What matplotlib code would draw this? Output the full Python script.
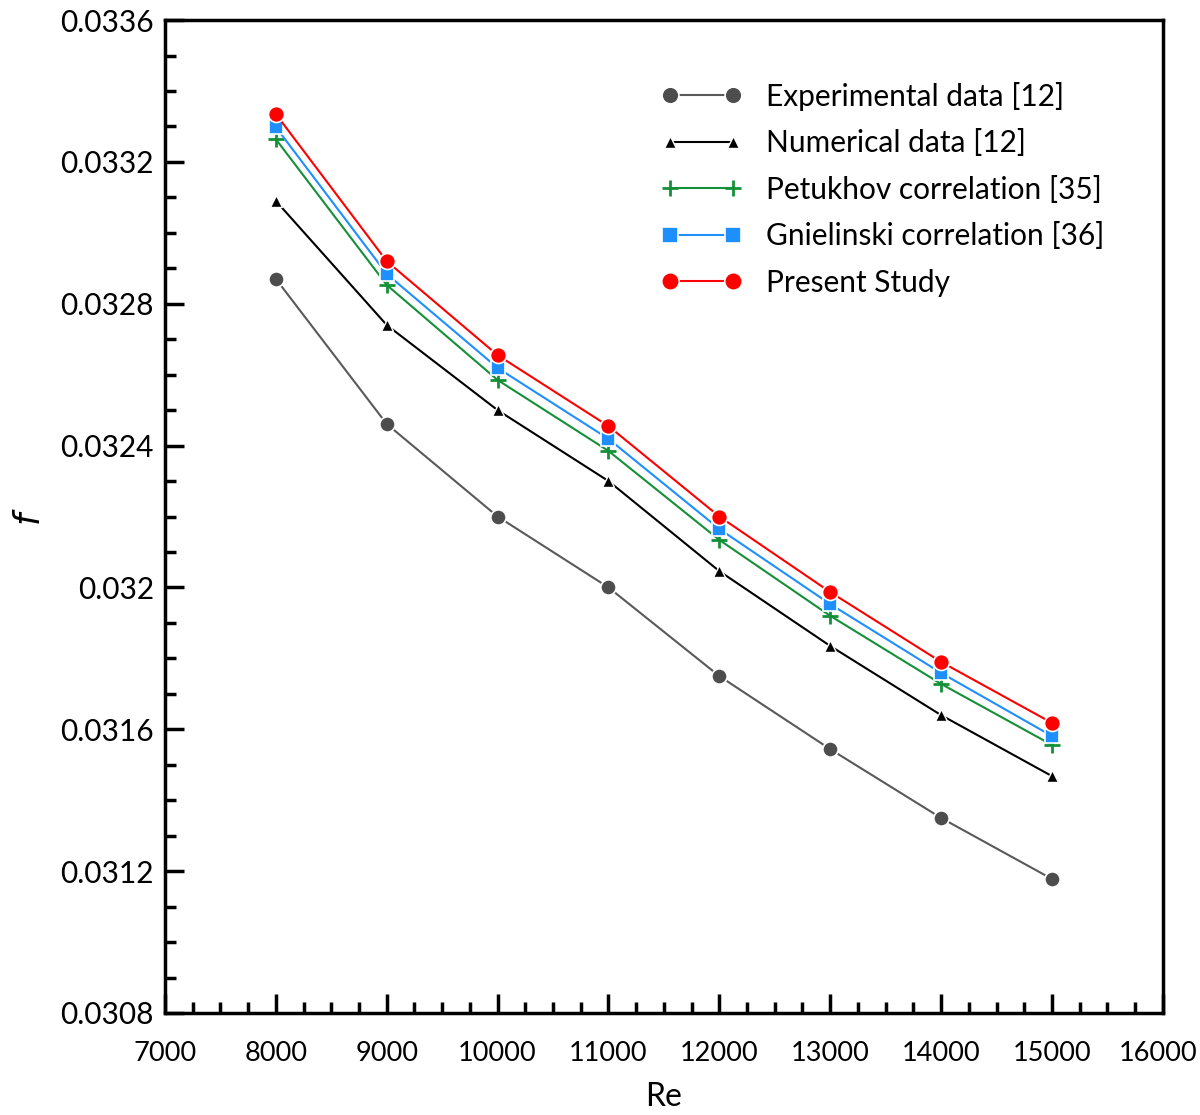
import matplotlib
matplotlib.use("Agg")
import matplotlib.pyplot as plt
import matplotlib.transforms as mtransforms
from matplotlib.ticker import MultipleLocator, FuncFormatter

re_vals = [8000, 9000, 10000, 11000, 12000, 13000, 14000, 15000]
experimental = [0.03287, 0.032461, 0.03220, 0.03200, 0.03175, 0.031544, 0.03135, 0.031178]
numerical = [0.03309, 0.03274, 0.03250, 0.03230, 0.032046, 0.031835, 0.03164, 0.031468]
petukhov = [0.033264, 0.032853, 0.032585, 0.032385, 0.032134, 0.03192, 0.031728, 0.031556]
gnielinski = [0.033298, 0.032884, 0.032619, 0.032419, 0.032165, 0.031953, 0.031759, 0.031581]
present = [0.033335, 0.03292, 0.032655, 0.032455, 0.03220, 0.031987, 0.03179, 0.031618]

labels = ["Experimental data [12]", "Numerical data [12]", "Petukhov correlation [35]",
          "Gnielinski correlation [36]", "Present Study"]

plt.rcParams['font.family'] = ['Lato', 'DejaVu Sans']

fig = plt.figure(figsize=(12, 11.15), dpi=100)
ax = fig.add_axes([0.1375, 0.0915, 0.8315, 0.8905])

ax.plot(re_vals, experimental, color='#595959', lw=1.5, marker='o', ms=11,
        mfc='#4d4d4d', mec='white', mew=1.2, label=labels[0])
ax.plot(re_vals, numerical, color='black', lw=1.5, marker='^', ms=8.5,
        mfc='black', mec='white', mew=1.0, label=labels[1])
ax.plot(re_vals, petukhov, color='#149038', lw=1.5, marker='+', ms=11,
        mec='#149038', mew=2.0, label=labels[2])
ax.plot(re_vals, gnielinski, color='#1e8fff', lw=1.5, marker='s', ms=10.5,
        mfc='#1e8fff', mec='white', mew=1.2, label=labels[3])
ax.plot(re_vals, present, color='#ff0000', lw=1.5, marker='o', ms=11.5,
        mfc='#ff0000', mec='white', mew=1.2, label=labels[4])

ax.set_xlim(7000, 16000)
ax.set_ylim(0.0308, 0.0336)
ax.xaxis.set_major_locator(MultipleLocator(1000))
ax.xaxis.set_minor_locator(MultipleLocator(250))
ax.yaxis.set_major_locator(MultipleLocator(0.0004))
ax.yaxis.set_minor_locator(MultipleLocator(0.0001))

def yfmt(v, pos):
    s = f"{v:.4f}".rstrip('0')
    return s
ax.yaxis.set_major_formatter(FuncFormatter(yfmt))

ax.tick_params(which='both', direction='in', top=False, right=False, width=2.5)
ax.tick_params(axis='x', labelsize=19.5)
ax.tick_params(axis='y', labelsize=21.5)
ax.tick_params(which='major', length=14)
ax.tick_params(axis='x', which='major', pad=20)
ax.tick_params(axis='y', which='major', pad=8)
ax.tick_params(which='minor', length=8)
for sp in ax.spines.values():
    sp.set_linewidth(2.5)

ax.set_xlabel("Re", fontsize=23, labelpad=12)
ax.set_ylabel("$f$", fontsize=25, labelpad=10)

leg = ax.legend(loc='upper right', bbox_to_anchor=(0.968, 0.965), frameon=False, fontsize=21.5,
                numpoints=2, handlelength=2.7, labelspacing=0.62, handletextpad=0.8,
                markerscale=1.1)

fig.canvas.draw()
shift = mtransforms.ScaledTranslation(-5 / 100, 0, fig.dpi_scale_trans)
for lbl in ax.get_xticklabels():
    if lbl.get_text() == "16000":
        lbl.set_transform(lbl.get_transform() + shift)

fig.savefig("out.png", dpi=100)
